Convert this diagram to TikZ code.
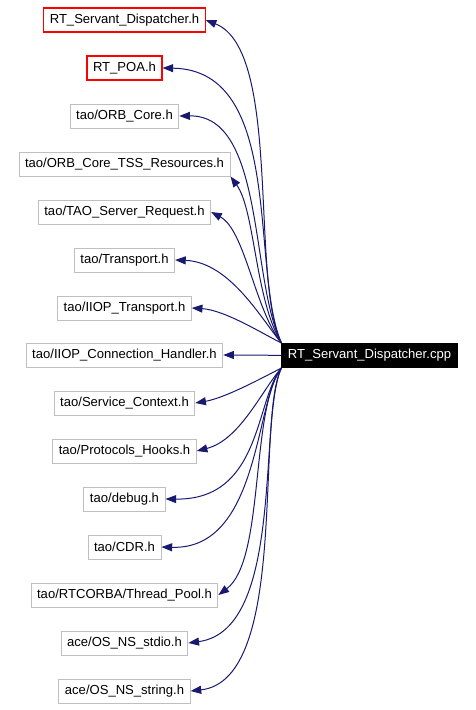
\documentclass[tikz,border=0pt]{standalone}
\usepackage{fontspec}
\setmainfont{Liberation Sans}
\usetikzlibrary{arrows.meta}
\definecolor{edgeblue}{HTML}{191970}
\definecolor{boxgray}{HTML}{BFBFBF}
\definecolor{boxred}{RGB}{255,0,0}
\tikzset{hdr/.style={draw=boxgray,line width=.75pt,minimum height=18pt,inner xsep=4.5pt,inner ysep=0pt},
  hdrred/.style={draw=boxred,line width=.8pt,minimum height=18pt,inner xsep=4.5pt,inner ysep=0pt},
  dep/.style={edgeblue,line width=.75pt,-{Triangle[length=8pt,width=6pt]}}}
\begin{document}
\begin{tikzpicture}[x=.75pt,y=-.75pt,font=\fontsize{9.8}{11}\selectfont]
\useasboundingbox(0,0)rectangle(475,710);
\node[draw,fill=black,text=white,line width=.75pt,minimum height=18pt,inner xsep=4.5pt,inner ysep=0pt](cpp)at(369.5,355.5){RT\_Servant\_Dispatcher.cpp};
\node[hdrred](sd)at(124.5,20){RT\_Servant\_Dispatcher.h};
\node[hdrred](poa)at(124.5,68){RT\_POA.h};
\foreach\n/\t/\y in{orb/{tao/ORB\_Core.h}/116,tss/{tao/ORB\_Core\_TSS\_Resources.h}/164,req/{tao/TAO\_Server\_Request.h}/212,
  trans/{tao/Transport.h}/260,iiop/{tao/IIOP\_Transport.h}/308,conn/{tao/IIOP\_Connection\_Handler.h}/355,
  ctx/{tao/Service\_Context.h}/403,hooks/{tao/Protocols\_Hooks.h}/451,dbg/{tao/debug.h}/499,cdr/{tao/CDR.h}/547,
  pool/{tao/RTCORBA/Thread\_Pool.h}/595,stdio/{ace/OS\_NS\_stdio.h}/643,str/{ace/OS\_NS\_string.h}/691}{\node[hdr](\n)at(124.5,\y){\t};}
\foreach\n/\a/\b/\p/\q in{sd/north west/east/{250,280}/{282,50},poa/north west/east/{250,270}/{285,70},
  orb/north west/east/{250,280}/{265,115},tss/north west/south east/{255,300}/{255,210},req/north west/east/{255,310}/{245,230},
  trans/north west/east/{262,320}/{230,262},iiop/north west/east/{265,335}/{225,310},conn/west/east/{260,355}/{240,355},
  ctx/south west/east/{262,378}/{225,398},hooks/south west/east/{262,390}/{240,440},dbg/south west/east/{255,400}/{262,500},
  cdr/south west/east/{255,400}/{260,550},pool/south west/east/{250,410}/{265,560},stdio/south west/east/{258,420}/{285,630},
  str/south west/east/{255,420}/{290,680}}{\draw[dep](cpp.\a)..controls(\p)and(\q)..(\n.\b);}
\end{tikzpicture}
\end{document}
